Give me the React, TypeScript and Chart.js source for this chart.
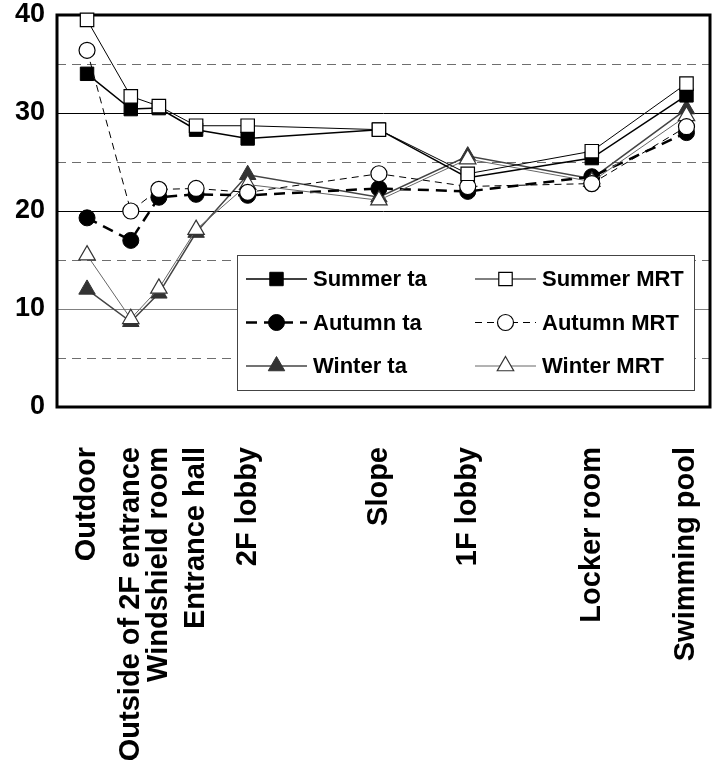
import React, { useEffect, useRef } from 'react';
import { Chart, registerables } from 'chart.js';
import { drawPoint } from 'chart.js/helpers';

Chart.register(...registerables);

const categories = [
  'Outdoor',
  'Outside of 2F entrance',
  'Windshield room',
  'Entrance hall',
  '2F lobby',
  'Slope',
  '1F lobby',
  'Locker room',
  'Swimming pool',
];
// relative position of each place along the route (0-100)
const positions = [4.6, 11.3, 15.6, 21.3, 29.2, 49.3, 62.9, 81.9, 96.4];

const summerTa = [34.0, 30.4, 30.5, 28.3, 27.4, 28.3, 23.4, 25.4, 31.8];
const summerMrt = [39.5, 31.7, 30.7, 28.7, 28.7, 28.3, 23.8, 26.1, 33.0];
const autumnTa = [19.3, 17.0, 21.4, 21.7, 21.6, 22.3, 22.0, 23.5, 28.0];
const autumnMrt = [36.4, 20.0, 22.2, 22.3, 21.9, 23.8, 22.5, 22.8, 28.6];
const winterTa = [12.0, 8.7, 11.6, 17.8, 23.7, 21.4, 25.6, 23.3, 30.4];
const winterMrt = [15.5, 9.0, 12.1, 18.1, 22.7, 21.1, 25.3, 23.0, 29.7];

const yLabelValues = [0, 10, 20, 30, 40];
const solidGridValues = [10, 20, 30];
const dashedGridValues = [5, 15, 25, 35];

const FONT = '"Liberation Sans", Arial, Helvetica, sans-serif';

const toPoints = (vals: number[]) => vals.map((v, i) => ({ x: positions[i], y: v }));

const zeroPadding = (s: any) => {
  s.paddingLeft = 0;
  s.paddingRight = 0;
  s.paddingTop = 0;
  s.paddingBottom = 0;
};

const framePlugin = {
  id: 'frame',
  beforeDatasetsDraw(chart: any) {
    const { ctx, chartArea: a } = chart;
    ctx.save();
    ctx.lineWidth = 3;
    ctx.strokeStyle = '#000';
    ctx.setLineDash([]);
    ctx.strokeRect(a.left, a.top, a.right - a.left, a.bottom - a.top);
    ctx.restore();
  },
};

const legendPlugin = {
  id: 'boxLegend',
  afterDatasetsDraw(chart: any) {
    const { ctx, chartArea: a } = chart;
    const w = a.right - a.left;
    const h = a.bottom - a.top;
    const bx = Math.round(a.left + w * 0.2757);
    const by = Math.round(a.top + h * 0.612);
    const bw = Math.round(w * 0.7);
    const bh = Math.round(h * 0.344);
    ctx.save();
    ctx.fillStyle = '#fff';
    ctx.fillRect(bx, by, bw, bh);
    ctx.lineWidth = 1;
    ctx.strokeStyle = '#444';
    ctx.setLineDash([]);
    ctx.strokeRect(bx + 0.5, by + 0.5, bw, bh);
    chart.data.datasets.forEach((ds: any, i: number) => {
      const col = i % 2;
      const row = Math.floor(i / 2);
      const lx = bx + 9 + col * 229;
      const ly = by + 24 + row * 43.5;
      ctx.beginPath();
      ctx.setLineDash(ds.borderDash || []);
      ctx.lineWidth = ds.borderWidth;
      ctx.strokeStyle = ds.borderColor;
      ctx.moveTo(lx, ly);
      ctx.lineTo(lx + 61, ly);
      ctx.stroke();
      ctx.setLineDash([]);
      ctx.fillStyle = ds.pointBackgroundColor;
      ctx.strokeStyle = ds.pointBorderColor;
      ctx.lineWidth = ds.pointBorderWidth;
      drawPoint(
        ctx,
        { pointStyle: ds.pointStyle, radius: ds.pointRadius, borderWidth: ds.pointBorderWidth, rotation: 0 } as any,
        lx + 30.5,
        ly
      );
      ctx.fillStyle = '#000';
      ctx.font = `bold 22px ${FONT}`;
      ctx.textBaseline = 'middle';
      ctx.textAlign = 'left';
      ctx.fillText(ds.label, lx + 67, ly + 1);
    });
    ctx.restore();
  },
};

export default function App() {
  const canvasRef = useRef<HTMLCanvasElement | null>(null);

  useEffect(() => {
    document.body.style.margin = '0';
    const canvas = canvasRef.current;
    if (!canvas) return;
    const common = { tension: 0, clip: false as any, fill: false };
    const chart = new Chart(canvas, {
      type: 'line',
      data: {
        datasets: [
          {
            ...common,
            label: 'Summer ta',
            data: toPoints(summerTa),
            borderColor: '#000',
            borderWidth: 1.5,
            pointStyle: 'rect',
            pointRadius: 9.5,
            pointBackgroundColor: '#000',
            pointBorderColor: '#000',
            pointBorderWidth: 1,
            order: 1,
          },
          {
            ...common,
            label: 'Summer MRT',
            data: toPoints(summerMrt),
            borderColor: '#000',
            borderWidth: 1,
            pointStyle: 'rect',
            pointRadius: 9.5,
            pointBackgroundColor: '#fff',
            pointBorderColor: '#000',
            pointBorderWidth: 1.2,
            order: 0,
          },
          {
            ...common,
            label: 'Autumn ta',
            data: toPoints(autumnTa),
            borderColor: '#000',
            borderWidth: 2.5,
            borderDash: [11, 7],
            pointStyle: 'circle',
            pointRadius: 8,
            pointBackgroundColor: '#000',
            pointBorderColor: '#000',
            pointBorderWidth: 1,
            order: 1,
          },
          {
            ...common,
            label: 'Autumn MRT',
            data: toPoints(autumnMrt),
            borderColor: '#000',
            borderWidth: 1,
            borderDash: [7, 5],
            pointStyle: 'circle',
            pointRadius: 8,
            pointBackgroundColor: '#fff',
            pointBorderColor: '#000',
            pointBorderWidth: 1.2,
            order: 0,
          },
          {
            ...common,
            label: 'Winter ta',
            data: toPoints(winterTa),
            borderColor: '#444',
            borderWidth: 1.5,
            pointStyle: 'triangle',
            pointRadius: 9.5,
            pointBackgroundColor: '#333',
            pointBorderColor: '#333',
            pointBorderWidth: 1,
            order: 1,
          },
          {
            ...common,
            label: 'Winter MRT',
            data: toPoints(winterMrt),
            borderColor: '#666',
            borderWidth: 1,
            pointStyle: 'triangle',
            pointRadius: 9.5,
            pointBackgroundColor: '#fff',
            pointBorderColor: '#333',
            pointBorderWidth: 1.2,
            order: 0,
          },
        ],
      },
      options: {
        animation: false,
        responsive: false,
        devicePixelRatio: 1,
        layout: { autoPadding: false, padding: { top: 15, right: 5, left: 0, bottom: 0 } },
        plugins: {
          legend: { display: false },
          tooltip: { enabled: false },
        },
        scales: {
          x: {
            type: 'linear',
            min: 0,
            max: 100,
            afterBuildTicks: (s: any) => {
              s.ticks = positions.map((v) => ({ value: v }));
            },
            afterFit: (s: any) => {
              s.height = 358;
              zeroPadding(s);
            },
            grid: { display: false, drawTicks: false },
            border: { display: false },
            ticks: {
              autoSkip: false,
              maxRotation: 90,
              minRotation: 90,
              padding: 40,
              color: '#000',
              font: { family: FONT, size: 29, weight: 'bold' },
              callback: (_v: any, i: number) => categories[i],
            },
          },
          y: {
            min: 0,
            max: 40,
            afterFit: (s: any) => {
              s.width = 57;
              zeroPadding(s);
            },
            ticks: {
              stepSize: 5,
              padding: 12,
              color: '#000',
              font: { family: FONT, size: 27, weight: 'bold' },
              callback: (v: any) => (yLabelValues.includes(Number(v)) ? String(v) : ''),
            },
            grid: {
              drawTicks: false,
              lineWidth: 1,
              color: (c: any) => {
                const v = c.tick ? c.tick.value : -1;
                if (!solidGridValues.includes(v)) return 'rgba(0,0,0,0)';
                return v === 10 ? '#808080' : '#000';
              },
            },
            border: { display: false },
          },
          y2: {
            position: 'right',
            min: 0,
            max: 40,
            afterBuildTicks: (s: any) => {
              s.ticks = dashedGridValues.map((v) => ({ value: v }));
            },
            afterFit: (s: any) => {
              s.width = 0;
              zeroPadding(s);
            },
            ticks: { display: false },
            grid: { drawTicks: false, color: '#6e6e6e', lineWidth: 1 },
            border: { display: false, dash: [9, 6] },
          },
        },
      } as any,
      plugins: [framePlugin, legendPlugin],
    });
    return () => chart.destroy();
  }, []);

  return (
    <div style={{ width: 715, height: 765, background: '#fff' }}>
      <canvas ref={canvasRef} width={715} height={765} style={{ display: 'block' }} />
    </div>
  );
}
